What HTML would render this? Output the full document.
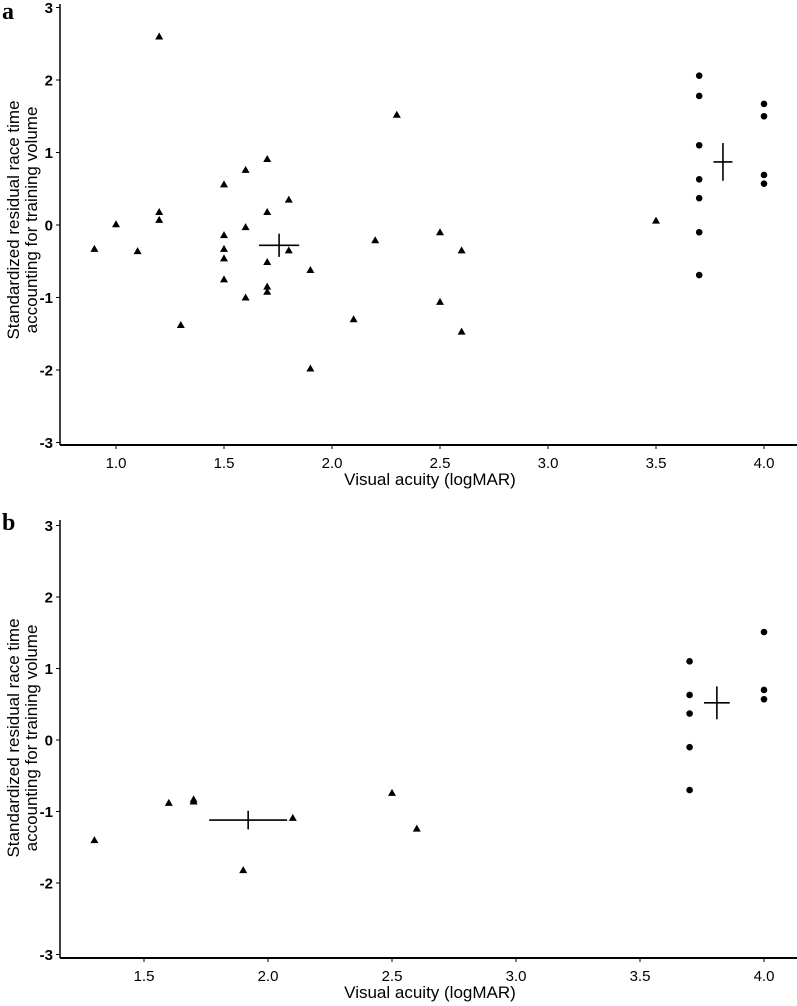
<!DOCTYPE html>
<html><head><meta charset="utf-8"><style>
body{margin:0;background:#fff;}
svg{display:block;font-family:"Liberation Sans",Arial,sans-serif;}
</style></head><body>
<svg id="chart" width="797" height="1006" viewBox="0 0 797 1006" xmlns="http://www.w3.org/2000/svg"></svg>
<script>
// Panel a data
const aTriX = [1.2,2.3,1.7,1.6,1.5,1.8,1.2,1.7,1.2,1.0,1.6,2.5,1.5,2.2,0.9,1.1,1.5,1.8,2.6,1.5,1.7,1.9,1.5,1.7,1.7,1.6,2.5,1.3,2.1,2.6,1.9,3.5];
const aTriY = [2.60,1.52,0.91,0.76,0.56,0.35,0.18,0.18,0.07,0.01,-0.03,-0.10,-0.14,-0.21,-0.33,-0.36,-0.33,-0.35,-0.35,-0.46,-0.51,-0.62,-0.75,-0.85,-0.92,-1.00,-1.06,-1.38,-1.30,-1.47,-1.98,0.06];
const aDotX = [3.7,3.7,3.7,3.7,3.7,3.7,3.7,4.0,4.0,4.0,4.0];
const aDotY = [2.06,1.78,1.10,0.63,0.37,-0.10,-0.69,1.67,1.50,0.69,0.57];
const aMeans = [[1.755,-0.28,0.093,0.16],[3.81,0.87,0.044,0.26]];
const aXTicks = [1.0,1.5,2.0,2.5,3.0,3.5,4.0];
// Panel b data
const bTriX = [1.3,1.6,1.7,1.7,2.1,1.9,2.5,2.6];
const bTriY = [-1.40,-0.88,-0.83,-0.86,-1.09,-1.82,-0.74,-1.24];
const bDotX = [3.7,3.7,3.7,3.7,3.7,4.0,4.0,4.0];
const bDotY = [1.10,0.63,0.37,-0.10,-0.70,1.51,0.70,0.57];
const bMeans = [[1.92,-1.12,0.157,0.13],[3.81,0.52,0.052,0.23]];
const bXTicks = [1.5,2.0,2.5,3.0,3.5,4.0];
const yTicks = [3,2,1,0,-1,-2,-3];
const yTickLabels = ["3","2","1","0","-1","-2","-3"];

const svg = document.getElementById('chart');
const NS = 'http://www.w3.org/2000/svg';
function mk(tag, attrs, parent){const e=document.createElementNS(NS,tag);for(const k in attrs)e.setAttribute(k,attrs[k]);(parent||svg).appendChild(e);return e;}

function panel(cfg){
  const g = mk('g',{});
  
  
  const sx = v => cfg.x0 + (v - cfg.xv0)*cfg.xs;
  const sy = v => cfg.y0 - v*cfg.ys;
  const lab = mk('text',{x:2,y:cfg.labY,'font-family':'"Liberation Serif",serif','font-weight':'bold','font-size':24},g);
  lab.textContent = cfg.id;
  
  
  const yA = mk('line',{x1:60,y1:cfg.top,x2:60,y2:cfg.bottom,stroke:'#000','stroke-width':1.5},g);
  
  
  const xA = mk('line',{x1:60,y1:cfg.bottom,x2:797,y2:cfg.bottom,stroke:'#000','stroke-width':2},g);
  
  
  yTicks.forEach((t,i)=>{
    const y=sy(t);
    mk('line',{x1:56,y1:y,x2:60,y2:y,stroke:'#000','stroke-width':1},g);
    const tx=mk('text',{x:53,y:y+5.5,'text-anchor':'end','font-size':15,'font-weight':'bold'},g);
    tx.textContent=yTickLabels[i];
    
    
  });
  cfg.xticks.forEach(t=>{
    const x=sx(t);
    mk('line',{x1:x,y1:cfg.bottom,x2:x,y2:cfg.bottom+4,stroke:'#000','stroke-width':1},g);
    const tx=mk('text',{x:x,y:cfg.bottom+23,'text-anchor':'middle','font-size':15},g);
    tx.textContent=t.toFixed(1);
    
    
  });
  const xt=mk('text',{x:cfg.xTitleX,y:cfg.bottom+40,'text-anchor':'middle','font-size':17},g);
  xt.textContent='Visual acuity (logMAR)';
  
  
  const yt=mk('text',{'text-anchor':'middle','font-size':17,transform:`translate(19,${cfg.titleY}) rotate(-90)`},g);
  
  
  const t1=mk('tspan',{x:0,y:0},yt); t1.textContent='Standardized residual race time';
  const t2=mk('tspan',{x:0,y:18},yt); t2.textContent='accounting for training volume';
  cfg.triX.forEach((v,i)=>{
    const x=sx(v), y=sy(cfg.triY[i]);
    const p=mk('polygon',{points:`${x-4},${y+3} ${x+4},${y+3} ${x},${y-4}`,fill:'#000'},g);
    
    
  });
  cfg.dotX.forEach((v,i)=>{
    const c=mk('circle',{cx:sx(v),cy:sy(cfg.dotY[i]),r:3.3,fill:'#000'},g);
    
    
  });
  cfg.means.forEach(m=>{
    const [mx,my,ex,ey]=m;
    const h=mk('line',{x1:sx(mx-ex),y1:sy(my),x2:sx(mx+ex),y2:sy(my),stroke:'#000','stroke-width':1.6},g);
    
    
    const v=mk('line',{x1:sx(mx),y1:sy(my-ey),x2:sx(mx),y2:sy(my+ey),stroke:'#000','stroke-width':1.6},g);
    
    
  });
}
panel({id:'a',x0:116,xv0:1.0,xs:216,y0:225,ys:72.5,top:4,bottom:445,labY:19,titleY:220,xticks:aXTicks,triX:aTriX,triY:aTriY,dotX:aDotX,dotY:aDotY,means:aMeans,xTitleX:430});
panel({id:'b',x0:144,xv0:1.5,xs:248,y0:740,ys:71.5,top:520,bottom:958,labY:530,titleY:738,xticks:bXTicks,triX:bTriX,triY:bTriY,dotX:bDotX,dotY:bDotY,means:bMeans,xTitleX:430});
</script>
</body></html>
